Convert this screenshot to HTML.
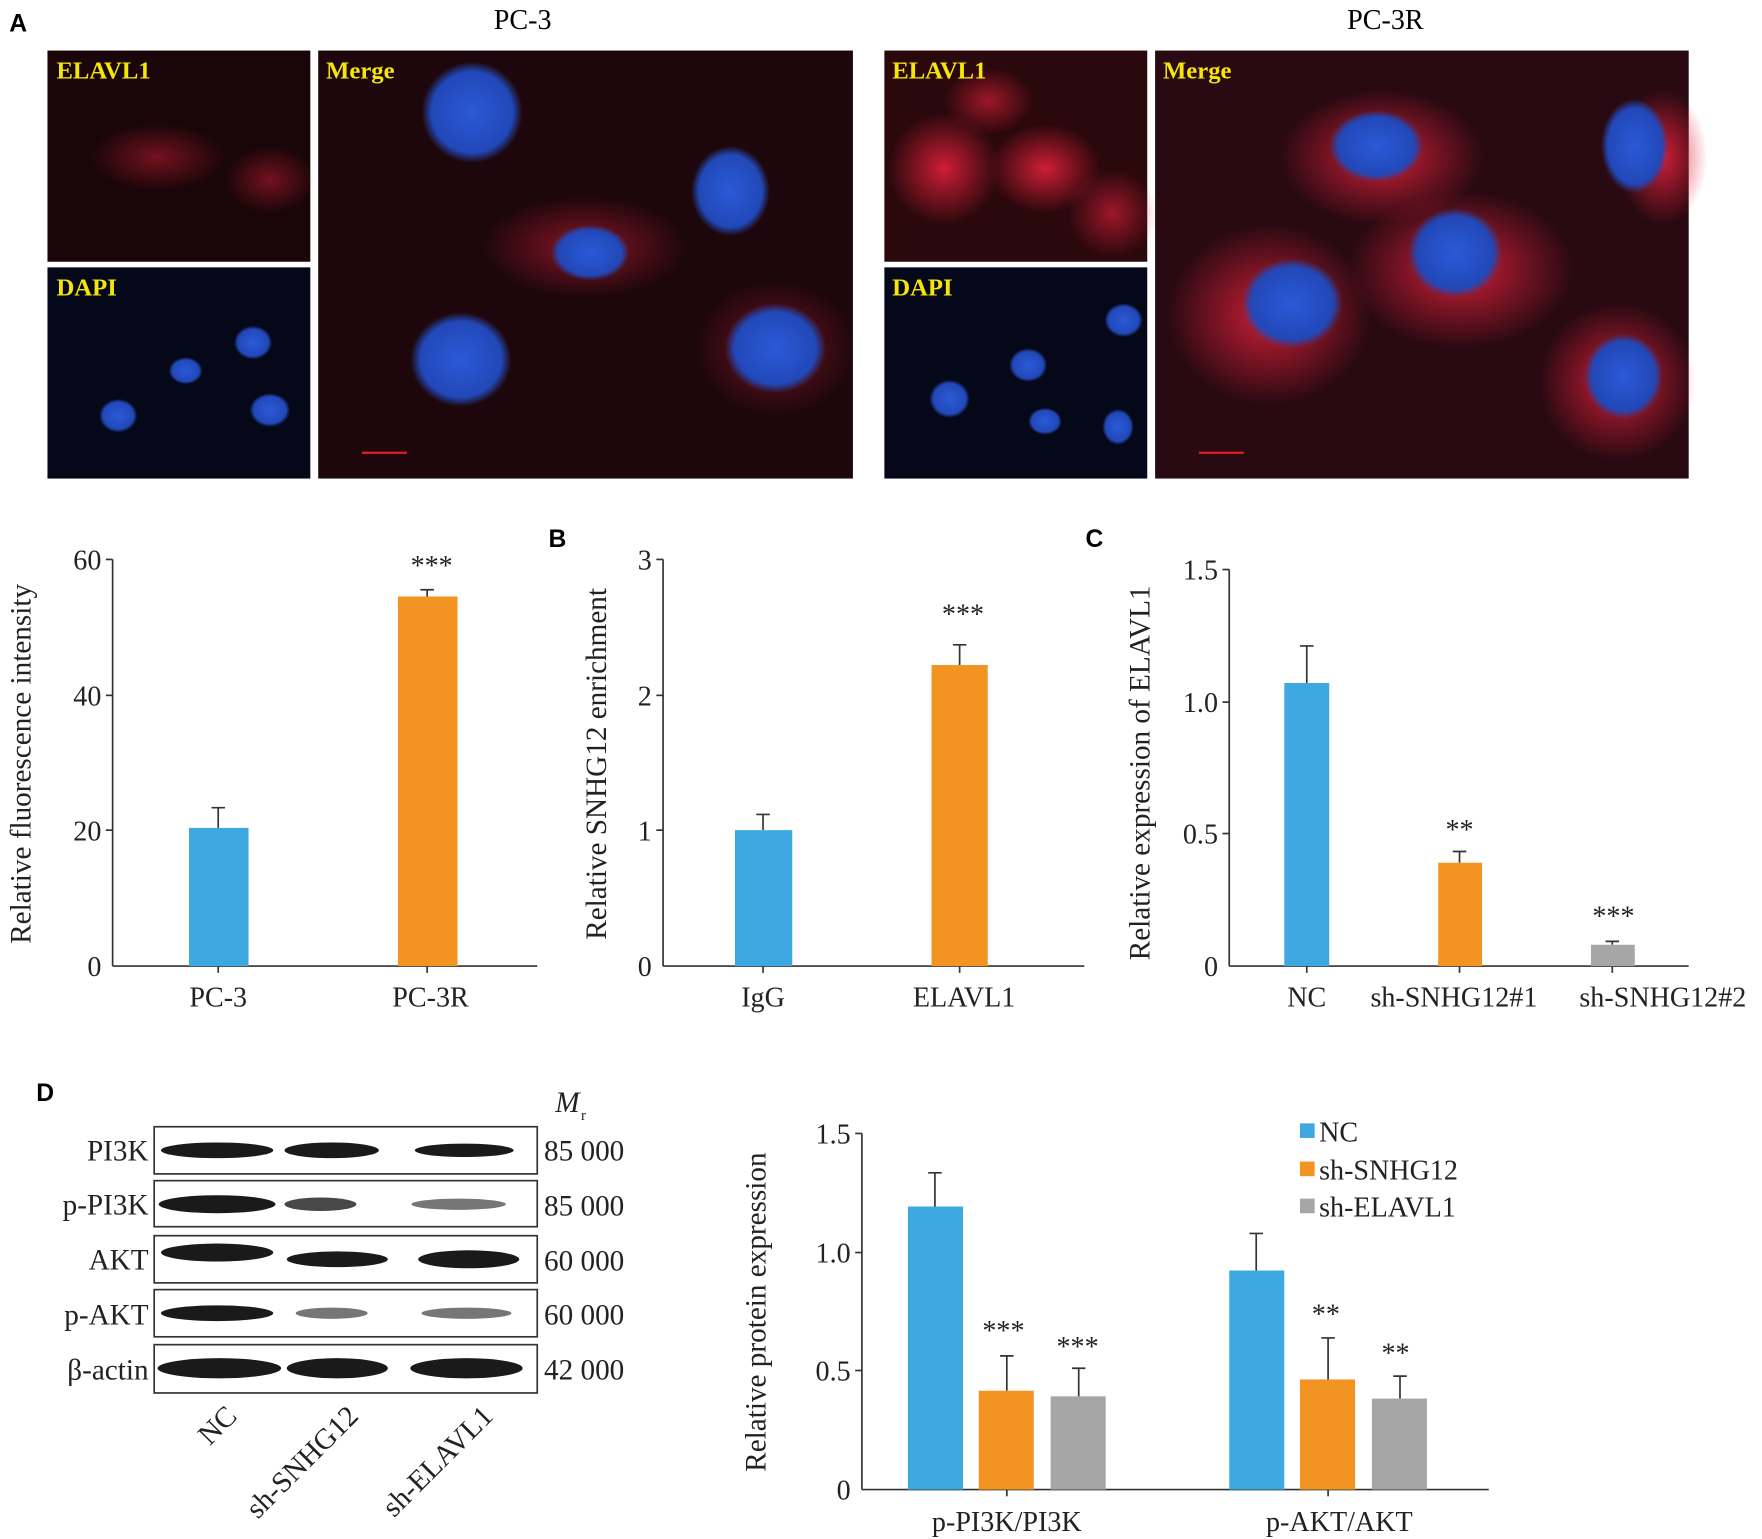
<!DOCTYPE html>
<html><head><meta charset="utf-8"><style>html,body{margin:0;padding:0;background:#fff}svg{display:block}</style></head><body>
<svg width="1762" height="1539" viewBox="0 0 1568 1370" xmlns="http://www.w3.org/2000/svg" font-family="Liberation Serif, serif">
<defs>
<radialGradient id="red" cx="50%" cy="50%" r="50%"><stop offset="0" stop-color="#e0203a" stop-opacity="0.9"/><stop offset="1" stop-color="#e0203a" stop-opacity="0"/></radialGradient>
<radialGradient id="blue" cx="50%" cy="50%" r="50%"><stop offset="0" stop-color="#2a5ad8"/><stop offset="0.8" stop-color="#2248b8"/><stop offset="1" stop-color="#2248b8" stop-opacity="0"/></radialGradient>
</defs>
<text x="8" y="28" font-family="Liberation Sans, sans-serif" font-weight="bold" font-size="22">A</text>
<text x="465" y="26" font-size="25" text-anchor="middle">PC-3</text>
<text x="1233" y="26" font-size="25" text-anchor="middle">PC-3R</text>
<rect x="42" y="45" width="234" height="188" fill="#1a0608"/>
<ellipse cx="140" cy="140" rx="60" ry="30" fill="url(#red)" opacity="0.5"/>
<ellipse cx="240" cy="160" rx="40" ry="30" fill="url(#red)" opacity="0.5"/>
<rect x="42" y="238" width="234" height="188" fill="#050818"/>
<ellipse cx="225" cy="305" rx="17" ry="15" fill="url(#blue)"/><ellipse cx="165" cy="330" rx="15" ry="12" fill="url(#blue)"/>
<ellipse cx="240" cy="365" rx="18" ry="15" fill="url(#blue)"/><ellipse cx="105" cy="370" rx="17" ry="15" fill="url(#blue)"/>
<rect x="283" y="45" width="476" height="381" fill="#1e070c"/>
<ellipse cx="520" cy="220" rx="90" ry="45" fill="url(#red)" opacity="0.6"/>
<ellipse cx="690" cy="310" rx="70" ry="60" fill="url(#red)" opacity="0.5"/>
<ellipse cx="420" cy="100" rx="45" ry="45" fill="url(#blue)"/><ellipse cx="650" cy="170" rx="35" ry="40" fill="url(#blue)"/>
<ellipse cx="525" cy="225" rx="35" ry="25" fill="url(#blue)"/><ellipse cx="410" cy="320" rx="45" ry="42" fill="url(#blue)"/>
<ellipse cx="690" cy="310" rx="45" ry="40" fill="url(#blue)"/>
<rect x="787" y="45" width="234" height="188" fill="#2a080c"/>
<ellipse cx="840" cy="150" rx="50" ry="50" fill="url(#red)"/><ellipse cx="930" cy="150" rx="50" ry="40" fill="url(#red)"/>
<ellipse cx="880" cy="90" rx="40" ry="30" fill="url(#red)" opacity="0.7"/><ellipse cx="990" cy="190" rx="40" ry="40" fill="url(#red)" opacity="0.7"/>
<rect x="787" y="238" width="234" height="188" fill="#050818"/>
<ellipse cx="1000" cy="285" rx="17" ry="15" fill="url(#blue)"/><ellipse cx="915" cy="325" rx="17" ry="15" fill="url(#blue)"/>
<ellipse cx="845" cy="355" rx="18" ry="17" fill="url(#blue)"/><ellipse cx="930" cy="375" rx="15" ry="12" fill="url(#blue)"/><ellipse cx="995" cy="380" rx="14" ry="16" fill="url(#blue)"/>
<rect x="1028" y="45" width="475" height="381" fill="#2a0a12"/>
<ellipse cx="1230" cy="140" rx="90" ry="60" fill="url(#red)"/><ellipse cx="1300" cy="240" rx="100" ry="70" fill="url(#red)"/>
<ellipse cx="1130" cy="280" rx="90" ry="80" fill="url(#red)"/><ellipse cx="1440" cy="340" rx="70" ry="70" fill="url(#red)"/>
<ellipse cx="1480" cy="140" rx="40" ry="60" fill="url(#red)"/>
<ellipse cx="1225" cy="130" rx="42" ry="32" fill="url(#blue)"/><ellipse cx="1295" cy="225" rx="42" ry="40" fill="url(#blue)"/>
<ellipse cx="1150" cy="270" rx="45" ry="40" fill="url(#blue)"/><ellipse cx="1455" cy="130" rx="30" ry="42" fill="url(#blue)"/>
<ellipse cx="1445" cy="335" rx="35" ry="38" fill="url(#blue)"/>
<g font-weight="bold" font-size="22" fill="#f5e60a">
<text x="50" y="70">ELAVL1</text><text x="50" y="263">DAPI</text><text x="290" y="70">Merge</text>
<text x="794" y="70">ELAVL1</text><text x="794" y="263">DAPI</text><text x="1035" y="70">Merge</text>
</g>
<g stroke="#e02020" stroke-width="2"><line x1="322" y1="403" x2="362" y2="403"/><line x1="1067" y1="403" x2="1107" y2="403"/></g>

<g stroke="#333" stroke-width="1.5">
<line x1="100" y1="498" x2="100" y2="860"/><line x1="100" y1="860" x2="478" y2="860"/>
<line x1="94" y1="498" x2="100" y2="498"/><line x1="94" y1="619" x2="100" y2="619"/><line x1="94" y1="739" x2="100" y2="739"/>
<line x1="194" y1="860" x2="194" y2="866"/><line x1="380" y1="860" x2="380" y2="866"/>
<line x1="590" y1="498" x2="590" y2="860"/><line x1="590" y1="860" x2="965" y2="860"/>
<line x1="584" y1="498" x2="590" y2="498"/><line x1="584" y1="619" x2="590" y2="619"/><line x1="584" y1="739" x2="590" y2="739"/>
<line x1="679" y1="860" x2="679" y2="866"/><line x1="854" y1="860" x2="854" y2="866"/>
<line x1="1094" y1="507" x2="1094" y2="860"/><line x1="1094" y1="860" x2="1503" y2="860"/>
<line x1="1088" y1="507" x2="1094" y2="507"/><line x1="1088" y1="625" x2="1094" y2="625"/><line x1="1088" y1="742" x2="1094" y2="742"/>
<line x1="1163" y1="860" x2="1163" y2="866"/><line x1="1299" y1="860" x2="1299" y2="866"/><line x1="1435" y1="860" x2="1435" y2="866"/>
<line x1="767" y1="1009" x2="767" y2="1326"/><line x1="767" y1="1326" x2="1325" y2="1326"/>
<line x1="761" y1="1009" x2="767" y2="1009"/><line x1="761" y1="1115" x2="767" y2="1115"/><line x1="761" y1="1220" x2="767" y2="1220"/>
<line x1="896" y1="1326" x2="896" y2="1332"/><line x1="1182" y1="1326" x2="1182" y2="1332"/>
<path d="M194 737V719M188 719H200M380 531V525M374 525H386M679 739V725M673 725H685M854 592V574M848 574H860M1163 608V575M1157 575H1169M1299 768V758M1293 758H1305M1435 841V838M1429 838H1441M832 1074V1044M826 1044H838M896 1238V1207M890 1207H902M960 1243V1218M954 1218H966M1118 1131V1098M1112 1098H1124M1182 1228V1191M1176 1191H1188M1246 1245V1225M1240 1225H1252" fill="none"/>
</g>
<g stroke="none">
<rect x="168" y="737" width="53" height="123" fill="#3ea9e0"/><rect x="354" y="531" width="53" height="329" fill="#f39322"/>
<rect x="654" y="739" width="51" height="121" fill="#3ea9e0"/><rect x="829" y="592" width="50" height="268" fill="#f39322"/>
<rect x="1143" y="608" width="40" height="252" fill="#3ea9e0"/><rect x="1280" y="768" width="39" height="92" fill="#f39322"/><rect x="1416" y="841" width="39" height="19" fill="#a6a6a6"/>
<rect x="808" y="1074" width="49" height="252" fill="#3ea9e0"/><rect x="871" y="1238" width="49" height="88" fill="#f39322"/><rect x="935" y="1243" width="49" height="83" fill="#a6a6a6"/>
<rect x="1094" y="1131" width="49" height="195" fill="#3ea9e0"/><rect x="1157" y="1228" width="49" height="98" fill="#f39322"/><rect x="1221" y="1245" width="49" height="81" fill="#a6a6a6"/>
<rect x="1157" y="1000" width="13" height="13" fill="#3ea9e0"/><rect x="1157" y="1034" width="13" height="13" fill="#f39322"/><rect x="1157" y="1067" width="13" height="13" fill="#a6a6a6"/>
</g>
<g font-size="25" fill="#222">
<g text-anchor="end"><text x="90" y="507">60</text><text x="90" y="628">40</text><text x="90" y="748">20</text><text x="90" y="869">0</text>
<text x="580" y="507">3</text><text x="580" y="628">2</text><text x="580" y="748">1</text><text x="580" y="869">0</text>
<text x="1084" y="516">1.5</text><text x="1084" y="634">1.0</text><text x="1084" y="751">0.5</text><text x="1084" y="869">0</text>
<text x="757" y="1018">1.5</text><text x="757" y="1124">1.0</text><text x="757" y="1229">0.5</text><text x="757" y="1335">0</text></g>
<g text-anchor="middle"><text x="194" y="896">PC-3</text><text x="383" y="896">PC-3R</text><text x="679" y="896">IgG</text><text x="858" y="896">ELAVL1</text>
<text x="1163" y="896">NC</text><text x="1294" y="896">sh-SNHG12#1</text><text x="1480" y="896">sh-SNHG12#2</text>
<text x="896" y="1363">p-PI3K/PI3K</text><text x="1192" y="1363">p-AKT/AKT</text>
<text x="384" y="512">***</text><text x="857" y="555">***</text><text x="1299" y="747">**</text><text x="1436" y="824">***</text>
<text x="893" y="1193">***</text><text x="959" y="1207">***</text><text x="1180" y="1178">**</text><text x="1242" y="1213">**</text></g>
<g font-size="26">
<text transform="translate(27 680) rotate(-90)" text-anchor="middle">Relative fluorescence intensity</text>
<text transform="translate(539 680) rotate(-90)" text-anchor="middle">Relative SNHG12 enrichment</text>
<text transform="translate(1023 688) rotate(-90)" text-anchor="middle">Relative expression of ELAVL1</text>
<text transform="translate(681 1168) rotate(-90)" text-anchor="middle">Relative protein expression</text>
</g>
<text x="1174" y="1016">NC</text><text x="1174" y="1050">sh-SNHG12</text><text x="1174" y="1083">sh-ELAVL1</text>
</g>
<g font-family="Liberation Sans, sans-serif" font-weight="bold" font-size="22"><text x="488" y="487">B</text><text x="966" y="487">C</text><text x="32" y="980">D</text></g>
<g fill="#fff" stroke="#333" stroke-width="1.5">
<rect x="137" y="1003" width="341" height="42"/><rect x="137" y="1051" width="341" height="41"/><rect x="137" y="1100" width="341" height="42"/><rect x="137" y="1148" width="341" height="42"/><rect x="137" y="1197" width="341" height="43"/>
</g>
<g fill="#1a1a1a">
<ellipse cx="193" cy="1024" rx="50" ry="7"/><ellipse cx="295" cy="1024" rx="42" ry="7"/><ellipse cx="413" cy="1024" rx="44" ry="6"/>
<ellipse cx="193" cy="1072" rx="52" ry="8"/><ellipse cx="285" cy="1072" rx="32" ry="6" opacity="0.8"/><ellipse cx="408" cy="1072" rx="42" ry="5" opacity="0.6"/>
<ellipse cx="193" cy="1115" rx="50" ry="8"/><ellipse cx="300" cy="1121" rx="45" ry="7"/><ellipse cx="417" cy="1121" rx="45" ry="8"/>
<ellipse cx="193" cy="1169" rx="50" ry="7"/><ellipse cx="295" cy="1169" rx="32" ry="5" opacity="0.6"/><ellipse cx="415" cy="1169" rx="40" ry="5" opacity="0.6"/>
<ellipse cx="195" cy="1218" rx="55" ry="9"/><ellipse cx="300" cy="1218" rx="45" ry="9"/><ellipse cx="415" cy="1218" rx="50" ry="9"/>
</g>
<g font-size="26" fill="#222">
<g text-anchor="end"><text x="132" y="1033">PI3K</text><text x="132" y="1081">p-PI3K</text><text x="132" y="1130">AKT</text><text x="132" y="1179">p-AKT</text><text x="132" y="1228">β-actin</text></g>
<text x="484" y="1033">85 000</text><text x="484" y="1082">85 000</text><text x="484" y="1131">60 000</text><text x="484" y="1179">60 000</text><text x="484" y="1228">42 000</text>
<text x="494" y="990" font-style="italic">M</text><text x="517" y="997" font-size="13">r</text>
<text transform="translate(212 1262) rotate(-45)" text-anchor="end">NC</text>
<text transform="translate(320 1262) rotate(-45)" text-anchor="end">sh-SNHG12</text>
<text transform="translate(440 1262) rotate(-45)" text-anchor="end">sh-ELAVL1</text>
</g>
</svg>
</body></html>
